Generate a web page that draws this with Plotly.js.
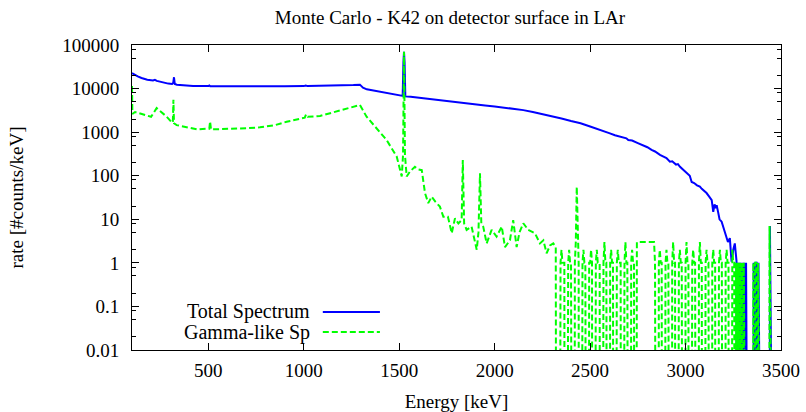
<!DOCTYPE html>
<html><head><meta charset="utf-8">
<script src="https://cdn.plot.ly/plotly-3.0.1.min.js"></script>
<style>html,body{margin:0;padding:0;background:#fff}#chart{width:806px;height:412px}</style>
</head><body><div id="chart"></div>
<script>
const chartTitle = "Monte Carlo - K42 on detector surface in LAr";
const xAxisTitle = "Energy [keV]";
const yAxisTitle = "rate [#counts/keV]";
const seriesNames = ["Total Spectrum", "Gamma-like Sp"];
const xTickVals = [500, 1000, 1500, 2000, 2500, 3000, 3500];
const yTickVals = [0.01, 0.1, 1, 10, 100, 1000, 10000, 100000];
const yTickText = ["0.01", "0.1", "1", "10", "100", "1000", "10000", "100000"];
const yMinorTicks = [0.02, 0.05, 0.08, 0.2, 0.5, 0.8, 2, 5, 8, 20, 50, 80, 200, 500, 800,
  2000, 5000, 8000, 20000, 50000, 80000];

// Total spectrum (keV, counts/keV); 0 = empty bin
const totalEnergy = [100, 115, 130, 150, 180, 210, 220, 230, 260, 290, 310, 316, 320, 324, 335, 370, 420,
  500, 505, 510, 600, 700, 800, 900, 1000, 1010, 1020, 1100, 1200, 1260, 1294, 1310, 1330, 1380, 1434,
  1480, 1510, 1518, 1522, 1525, 1528, 1532, 1560, 1600, 1650, 1700, 1750, 1800, 1850, 1900, 1950, 2000,
  2050, 2100, 2150, 2200, 2250, 2300, 2350, 2400, 2450, 2500, 2550, 2600, 2630, 2670, 2690, 2700, 2720,
  2750, 2780, 2800, 2822, 2840, 2866, 2880, 2900, 2918, 2930, 2950, 2960, 2971, 2985, 3000, 3014, 3022,
  3032, 3045, 3060, 3075, 3085, 3095, 3110, 3122, 3130, 3137, 3145, 3152, 3158, 3163, 3170, 3178, 3189,
  3197, 3205, 3215, 3222, 3232, 3241, 3250, 3258, 3267, 3272, 3277, 3282, 3287, 3292, 3297, 3302, 3307,
  3312, 3317, 3322, 3352, 3357, 3362, 3367, 3372, 3377, 3382, 3387, 3437, 3442, 3447, 3500];
const totalRate = [22700, 20500, 19000, 17500, 16000, 15300, 15900, 15000, 13800, 13000, 12700, 13500, 18200,
  12800, 12300, 11800, 11500, 11400, 11800, 11300, 11200, 11200, 11200, 11300, 11400, 11800, 11400, 11500,
  11800, 12100, 12300, 10500, 9600, 8800, 7800, 7100, 6800, 6800, 40000, 70000, 40000, 6600, 6450, 6150,
  5750, 5350, 5000, 4750, 4500, 4300, 4100, 3900, 3700, 3500, 3200, 2900, 2600, 2300, 2050, 1800, 1600,
  1350, 1150, 950, 850, 760, 720, 660, 640, 560, 500, 450, 390, 360, 300, 280, 255, 210, 215, 180, 185,
  160, 140, 125, 104, 100, 72, 68, 60, 56, 50, 46, 40, 34, 30, 27.6, 14.8, 22, 18, 21, 15, 10, 8.8,
  6.8, 5, 3.6, 3, 3.7, 1.07, 2, 2.8, 1.1, 0, 1, 0, 1, 0, 1, 0, 1,
  0, 1, 0, 0, 1, 0, 1, 1, 0, 1, 0, 0, 7, 0, 0];

// Gamma-like spectrum, low-energy part
const gammaEnergy = [100, 102, 116, 140, 170, 200, 229, 250, 280, 310, 314, 317, 320, 334, 380, 439, 490,
  505, 509, 514, 524, 600, 648, 700, 770, 850, 910, 960, 1005, 1012, 1020, 1085, 1172, 1250, 1294, 1329,
  1382, 1434, 1487, 1513, 1520, 1525, 1530, 1539, 1556, 1582, 1600, 1618, 1635, 1652, 1670, 1690, 1713,
  1731, 1755, 1775, 1792, 1810, 1827, 1833, 1840, 1853, 1879, 1906, 1915, 1923, 1930, 1940, 1958, 1984,
  2010, 2037, 2054, 2080, 2097, 2115, 2130, 2150, 2176, 2211, 2237, 2255, 2272, 2290, 2307, 2320];
const gammaRate = [11500, 2600, 2900, 2700, 2450, 2250, 3560, 3000, 2300, 1650, 1700, 5500, 1600, 1450,
  1300, 1160, 1200, 1200, 1750, 1150, 1160, 1180, 1200, 1230, 1290, 1450, 1730, 1900, 2150, 2550, 2250,
  2350, 2960, 3600, 4200, 2260, 1200, 660, 273, 96, 300, 70000, 300, 96, 124, 160, 140, 134, 40, 23.5,
  33, 25, 19.5, 11.5, 11.5, 4.8, 10.5, 8, 9.6, 230, 8, 5.7, 6.8, 2, 5, 113, 8, 6.8, 2.8, 5.7,
  4, 6.8, 2.3, 3.3, 9.6, 2.3, 5, 8.1, 5.7, 4.8, 2.8, 3.3, 1.66, 2.5, 2.8, 2.3];
// Gamma-like spectrum, high-energy part: 5 keV bins from 2330 keV
const gammaTailStart = 2330;
const gammaTailStep = 5;
const gammaTailRate = [
  0, 0, 0, 1, 2, 1, 1, 1, 0, 0,
  0, 1, 2, 1, 1, 0, 0, 0, 1, 3,
  56, 3, 1, 0, 0, 0, 1, 2, 1, 1,
  0, 0, 0, 1, 1, 2, 1, 0, 0, 0,
  1, 2, 1, 1, 1, 0, 0, 0, 1, 3,
  1, 1, 0, 0, 0, 1, 2, 1, 1, 0,
  0, 0, 1, 2, 1, 1, 1, 0, 0, 0,
  1, 3, 1, 1, 0, 0, 0, 1, 2, 1,
  1, 0, 0, 3, 3, 3, 3, 3, 3, 3,
  3, 3, 3, 3, 3, 3, 3, 3, 3, 3,
  3, 3, 1, 0, 0, 0, 1, 2, 1, 1,
  0, 0, 0, 1, 2, 1, 1, 0, 0, 0,
  1, 3, 1, 1, 0, 0, 0, 1, 2, 1,
  1, 0, 0, 0, 1, 3, 1, 1, 0, 0,
  0, 1, 2, 1, 1, 0, 0, 0, 1, 3,
  1, 1, 0, 0, 0, 1, 2, 1, 1, 0,
  0, 0, 1, 2, 1, 1, 0, 0, 0, 1,
  2, 1, 1, 0, 0, 0, 1, 2, 1, 1,
  0, 0, 0, 2, 1, 1, 0, 1, 0, 1,
  0, 1, 0, 1, 0, 1, 0, 0, 0, 0,
  0, 0, 0, 0, 0, 1, 0, 1, 1, 0,
  1, 0, 0, 0, 0, 0, 0, 0, 0, 0,
  0, 0, 7, 0, 0, 0, 0, 0, 0, 0,
  0, 0, 0, 0, 0];

// empty bins cannot sit on a log axis: draw them far below the frame so the line drops off
const EMPTY_BIN = 1e-30;
const floorZero = v => (v > 0 ? v : EMPTY_BIN);

const gammaX = gammaEnergy.concat(gammaTailRate.map((_, i) => gammaTailStart + i * gammaTailStep));
const gammaY = gammaRate.concat(gammaTailRate).map(floorZero);

const FONT = "Liberation Serif";
const BLUE = "#0000ff", GREEN = "#00ff00";
const F = {family: FONT, size: 19, color: "#000"};
const FL = {family: FONT, size: 20, color: "#000"};

const traces = [
  {x: totalEnergy, y: totalRate.map(floorZero), type: "scatter", mode: "lines", name: seriesNames[0],
   line: {color: BLUE, width: 2}, showlegend: false},
  {x: gammaX, y: gammaY, type: "scatter", mode: "lines", name: seriesNames[1],
   line: {color: GREEN, width: 2, dash: "6px,3px"}, showlegend: false}
];

const layout = {
  width: 806, height: 412,
  margin: {l: 132, r: 25, t: 45, b: 62},
  paper_bgcolor: "#fff", plot_bgcolor: "#fff",
  font: F,
  title: {text: chartTitle, font: F,
          xref: "paper", x: 0.49, xanchor: "center", yref: "container", y: 0.958, yanchor: "middle"},
  xaxis: {range: [100, 3500], tickmode: "array", tickvals: xTickVals, ticks: "inside", ticklen: 7,
          tickwidth: 1, tickcolor: "#000", showline: true, linecolor: "#000", linewidth: 1, mirror: "ticks",
          showgrid: false, zeroline: false, automargin: false, ticklabelstandoff: 3,
          tickfont: F,
          title: {text: xAxisTitle, font: F}},
  yaxis: {type: "log", range: [-2, 5], tickmode: "array", tickvals: yTickVals, ticktext: yTickText,
          ticks: "inside", ticklen: 7, tickwidth: 1, tickcolor: "#000", showline: true, linecolor: "#000",
          linewidth: 1, mirror: "ticks", showgrid: false, zeroline: false, automargin: true,
          ticklabelstandoff: 8,
          minor: {tickmode: "array", tickvals: yMinorTicks, ticks: "inside", ticklen: 4, tickcolor: "#000",
                  tickwidth: 1, showgrid: false},
          tickfont: F,
          title: {text: yAxisTitle, font: F, standoff: 33}},
  annotations: [
    {text: seriesNames[0], xref: "paper", yref: "paper", x: 0.277, y: 0.1246, xanchor: "right",
     yanchor: "middle", showarrow: false, font: FL},
    {text: seriesNames[1], xref: "paper", yref: "paper", x: 0.277, y: 0.059, xanchor: "right",
     yanchor: "middle", showarrow: false, font: FL}
  ],
  shapes: [
    {type: "line", xref: "paper", yref: "paper", x0: 0.294, x1: 0.382, y0: 0.1246, y1: 0.1246,
     line: {color: BLUE, width: 2}},
    {type: "line", xref: "paper", yref: "paper", x0: 0.294, x1: 0.382, y0: 0.059, y1: 0.059,
     line: {color: GREEN, width: 2, dash: "6px,3px"}}
  ]
};

Plotly.newPlot("chart", traces, layout, {displayModeBar: false, staticPlot: true});
</script>
</body></html>
